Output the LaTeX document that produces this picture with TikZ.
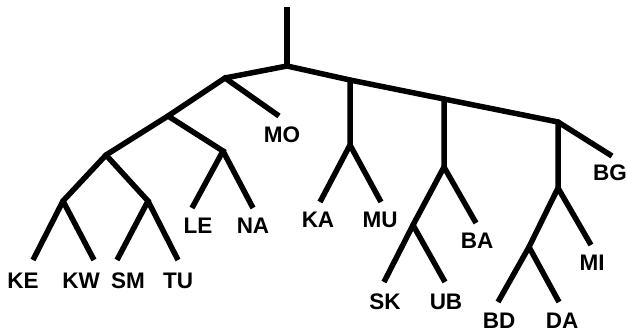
\documentclass[tikz,border=0pt]{standalone}
\usepackage{fontspec}
\setmainfont{Liberation Sans}
\begin{document}
\begin{tikzpicture}[x=1pt,y=-1pt,
  edge/.style={line width=5.5pt,line cap=butt,line join=miter},
  lbl/.style={inner sep=0pt,font=\fontsize{22.5}{22.5}\selectfont\bfseries}]
\useasboundingbox (0,0) rectangle (627,333);
% junctions and leaves
\coordinate (top) at (287,7);
\coordinate (R) at (287,66);
\coordinate (A) at (225,78);
\coordinate (MOl) at (279,116);
\coordinate (B) at (168,116);
\coordinate (C) at (223,151);
\coordinate (LEl) at (192,208);
\coordinate (NAl) at (253,208);
\coordinate (D) at (106,155);
\coordinate (E) at (63,201);
\coordinate (F) at (148,201);
\coordinate (KEl) at (33,260);
\coordinate (KWl) at (94,260);
\coordinate (SMl) at (117,260);
\coordinate (TUl) at (178,260);
\coordinate (J1) at (350,80);
\coordinate (J1b) at (350,145);
\coordinate (KAl) at (320,202);
\coordinate (MUl) at (381,202);
\coordinate (J2) at (444,99);
\coordinate (J2b) at (444,167);
\coordinate (G) at (413,225);
\coordinate (BAl) at (476,223);
\coordinate (SKl) at (384,282);
\coordinate (UBl) at (445,282);
\coordinate (J3) at (558,122);
\coordinate (BGl) at (612,156);
\coordinate (H) at (558,188);
\coordinate (MIl) at (591,245);
\coordinate (I) at (529,247);
\coordinate (BDl) at (498,302);
\coordinate (DAl) at (559,302);
% edges
\draw[edge] (top) -- (R);
\draw[edge] (A) -- (R) -- (J1) -- (J2) -- (J3) -- (BGl);
\draw[edge] (MOl) -- (A) -- (B) -- (D) -- (E) -- (KEl);
\draw[edge] (B) -- (C) -- (LEl);
\draw[edge] (C) -- (NAl);
\draw[edge] (E) -- (KWl);
\draw[edge] (D) -- (F) -- (SMl);
\draw[edge] (F) -- (TUl);
\draw[edge] (J1) -- (J1b) -- (KAl);
\draw[edge] (J1b) -- (MUl);
\draw[edge] (J2) -- (J2b) -- (G) -- (SKl);
\draw[edge] (J2b) -- (BAl);
\draw[edge] (G) -- (UBl);
\draw[edge] (J3) -- (H) -- (I) -- (BDl);
\draw[edge] (H) -- (MIl);
\draw[edge] (I) -- (DAl);
\foreach \p in {R,A,B,C,D,E,F,J1,J1b,J2,J2b,G,J3,H,I}
  \fill (\p) circle (2.75pt);
% labels
\node[lbl] (MO) at (282,135) {MO};
\node[lbl] (LE) at (198,226) {LE};
\node[lbl] (NA) at (253,226) {NA};
\node[lbl] (KE) at (23,281) {KE};
\node[lbl] (KW) at (81,281) {KW};
\node[lbl] (SM) at (128,281) {SM};
\node[lbl] (TU) at (178,281) {TU};
\node[lbl] (KA) at (318,220) {KA};
\node[lbl] (MU) at (380,220) {MU};
\node[lbl] (BA) at (477,241) {BA};
\node[lbl] (SK) at (385,302) {SK};
\node[lbl] (UB) at (446,302) {UB};
\node[lbl] (BG) at (610,173) {BG};
\node[lbl] (MI) at (592,263) {MI};
\node[lbl] (BD) at (499,321) {BD};
\node[lbl] (DA) at (562,321) {DA};
\end{tikzpicture}
\end{document}
